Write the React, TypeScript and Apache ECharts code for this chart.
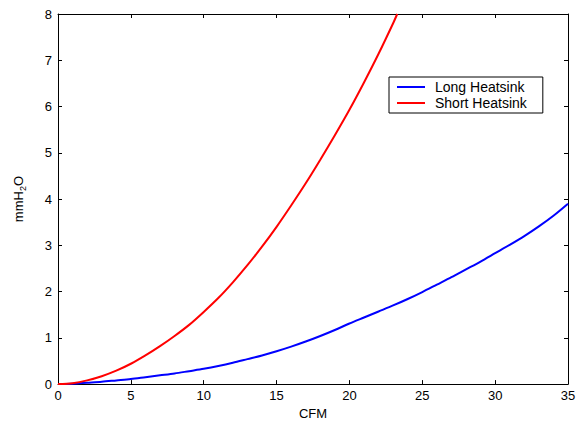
import React, { useEffect, useRef } from "react";
import * as echarts from "echarts";

const cfm: number[] = [0, 1, 2, 3, 4, 5, 6, 7, 8, 9, 10, 11, 12, 13, 14, 15, 16, 17, 18, 19, 20, 21, 22, 23, 24, 25, 26, 27, 28, 29, 30, 31, 32, 33, 34, 35];
const longHeatsink: number[] = [0, 0.01, 0.03, 0.05, 0.08, 0.11, 0.15, 0.19, 0.23, 0.28, 0.33, 0.39, 0.46, 0.54, 0.62, 0.71, 0.81, 0.92, 1.04, 1.17, 1.31, 1.44, 1.57, 1.7, 1.84, 1.99, 2.15, 2.31, 2.48, 2.65, 2.83, 3.01, 3.2, 3.41, 3.64, 3.9];
const shortCfm: number[] = [0, 1, 2, 3, 4, 5, 6, 7, 8, 9, 10, 11, 12, 13, 14, 15, 16, 17, 18, 19, 20, 21, 22, 23, 23.28];
const shortHeatsink: number[] = [0, 0.02, 0.08, 0.17, 0.29, 0.44, 0.62, 0.82, 1.04, 1.28, 1.56, 1.86, 2.2, 2.57, 2.97, 3.4, 3.86, 4.34, 4.85, 5.38, 5.93, 6.52, 7.14, 7.8, 8.0];
const seriesNames: string[] = ["Long Heatsink", "Short Heatsink"];

export default function App() {
  const ref = useRef<HTMLDivElement>(null);
  useEffect(() => {
    if (!ref.current) return;
    const chart = echarts.init(ref.current, undefined, { renderer: "svg" });
    const font = "Liberation Sans, Arial, sans-serif";
    const axisLine = { show: true, onZero: false, lineStyle: { color: "#000", width: 1 } };
    const tick = { show: true, inside: true, length: 4, lineStyle: { color: "#000" } };
    const lbl = { color: "#000", fontFamily: font, fontSize: 13 };
    chart.setOption({
      animation: false,
      backgroundColor: "#fff",
      grid: { left: 58, top: 14, right: 14, bottom: 38, containLabel: false },
      legend: {
        orient: "vertical",
        left: 389,
        top: 77,
        data: seriesNames,
        icon: "rect",
        backgroundColor: "#fff",
        borderColor: "#000",
        borderWidth: 1,
        padding: [3, 16, 3, 8],
        itemWidth: 28,
        itemHeight: 2,
        itemGap: 2,
        textStyle: { color: "#000", fontFamily: font, fontSize: 14, padding: [0, 0, 0, 5] },
      },
      xAxis: [
        {
          type: "value", min: 0, max: 35, interval: 5, position: "bottom",
          name: "CFM", nameLocation: "middle", nameGap: 20,
          nameTextStyle: { color: "#000", fontFamily: font, fontSize: 13 },
          axisLine, axisTick: tick, axisLabel: { ...lbl, margin: 5 }, splitLine: { show: false },
        },
        {
          type: "value", min: 0, max: 35, interval: 5, position: "top",
          axisLine, axisTick: tick, axisLabel: { show: false }, splitLine: { show: false },
        },
      ],
      yAxis: [
        {
          type: "value", min: 0, max: 8, interval: 1, position: "left",
          name: "mmH{sub|2}O", nameLocation: "middle", nameGap: 31, nameRotate: 90,
          nameTextStyle: {
            color: "#000", fontFamily: font, fontSize: 13,
            rich: { sub: { fontSize: 9, fontFamily: font, color: "#000", padding: [8, 0, 0, 0] } },
          },
          axisLine, axisTick: tick, axisLabel: { ...lbl, margin: 6 }, splitLine: { show: false },
        },
        {
          type: "value", min: 0, max: 8, interval: 1, position: "right",
          axisLine, axisTick: tick, axisLabel: { show: false }, splitLine: { show: false },
        },
      ],
      series: [
        {
          name: seriesNames[0], type: "line", symbol: "none", smooth: 0.3,
          lineStyle: { color: "#0000ff", width: 2 }, itemStyle: { color: "#0000ff" },
          data: cfm.map((x, i) => [x, longHeatsink[i]]),
        },
        {
          name: seriesNames[1], type: "line", symbol: "none", smooth: 0.3,
          lineStyle: { color: "#ff0000", width: 2 }, itemStyle: { color: "#ff0000" },
          data: shortCfm.map((x, i) => [x, shortHeatsink[i]]),
        },
      ],
    });
    return () => chart.dispose();
  }, []);
  return <div ref={ref} style={{ position: "fixed", left: 0, top: 0, width: 582, height: 425 }} />;
}
